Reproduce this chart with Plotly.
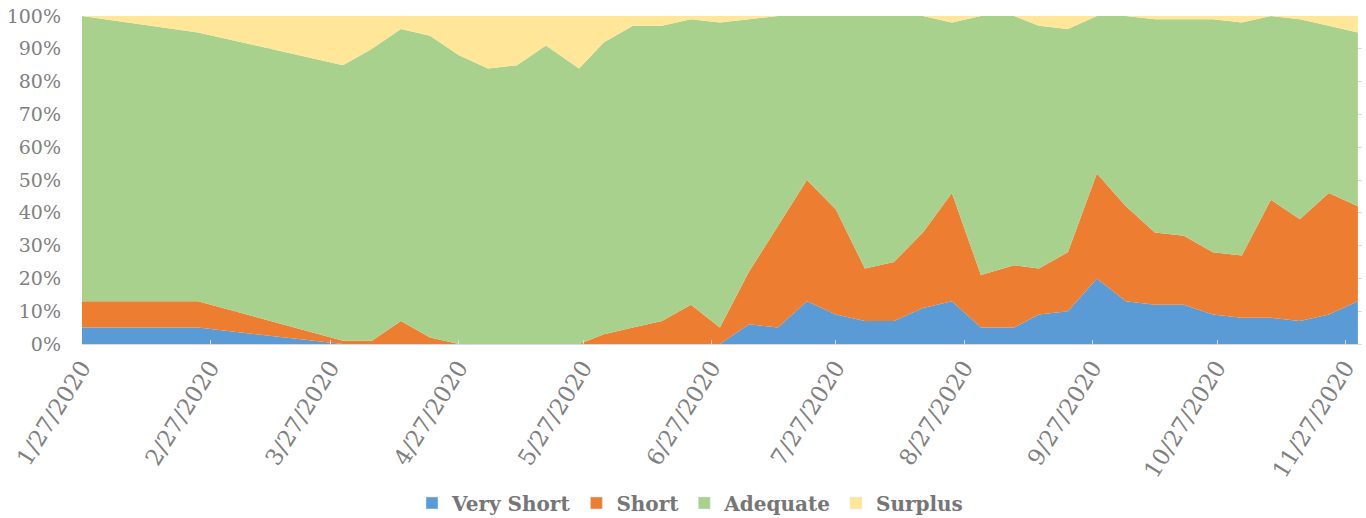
import plotly.graph_objects as go

# ---- data (percent of reports) ----
dates = ["2020-01-27", "2020-02-24", "2020-03-30", "2020-04-06", "2020-04-13", "2020-04-20",
         "2020-04-27", "2020-05-04", "2020-05-11", "2020-05-18", "2020-05-26", "2020-06-01",
         "2020-06-08", "2020-06-15", "2020-06-22", "2020-06-29", "2020-07-06", "2020-07-13",
         "2020-07-20", "2020-07-27", "2020-08-03", "2020-08-10", "2020-08-17", "2020-08-24",
         "2020-08-31", "2020-09-08", "2020-09-14", "2020-09-21", "2020-09-28", "2020-10-05",
         "2020-10-12", "2020-10-19", "2020-10-26", "2020-11-02", "2020-11-09", "2020-11-16",
         "2020-11-23", "2020-11-30"]

very_short = [5, 5, 0, 0, 0, 0, 0, 0, 0, 0, 0, 0, 0, 0, 0, 0, 6, 5, 13, 9, 7, 7, 11, 13,
              5, 5, 9, 10, 20, 13, 12, 12, 9, 8, 8, 7, 9, 13]
short = [8, 8, 1, 1, 7, 2, 0, 0, 0, 0, 0, 3, 5, 7, 12, 5, 16, 31, 37, 32, 16, 18, 23, 33,
         16, 19, 14, 18, 32, 29, 22, 21, 19, 19, 36, 31, 37, 29]
adequate = [87, 82, 84, 89, 89, 92, 88, 84, 85, 91, 84, 89, 92, 90, 87, 93, 77, 64, 50, 59,
            77, 75, 66, 52, 79, 76, 74, 68, 48, 58, 65, 66, 71, 71, 56, 61, 51, 53]
surplus = [0, 5, 15, 10, 4, 6, 12, 16, 15, 9, 16, 8, 3, 3, 1, 2, 1, 0, 0, 0, 0, 0, 0, 2,
           0, 0, 3, 4, 0, 0, 1, 1, 1, 2, 0, 1, 3, 5]

series_names = ["Very Short", "Short", "Adequate", "Surplus"]
series_values = [very_short, short, adequate, surplus]
series_colors = ["#5B9BD5", "#ED7D31", "#A9D18E", "#FFE699"]

tick_dates = ["2020-01-27", "2020-02-27", "2020-03-27", "2020-04-27", "2020-05-27", "2020-06-27",
              "2020-07-27", "2020-08-27", "2020-09-27", "2020-10-27", "2020-11-27"]
tick_labels = ["1/27/2020", "2/27/2020", "3/27/2020", "4/27/2020", "5/27/2020", "6/27/2020",
               "7/27/2020", "8/27/2020", "9/27/2020", "10/27/2020", "11/27/2020"]

y_ticks = [0, 10, 20, 30, 40, 50, 60, 70, 80, 90, 100]
y_labels = [f"{v}%" for v in y_ticks]

fig = go.Figure()
for name, vals, col in zip(series_names, series_values, series_colors):
    fig.add_trace(go.Scatter(
        x=dates, y=vals, name=name, mode="none", stackgroup="one", groupnorm="percent",
        fillcolor=col, showlegend=False, hoverinfo="x+y+name"))
# legend squares
for name, col in zip(series_names, series_colors):
    fig.add_trace(go.Bar(x=[None], y=[None], name=name, marker_color=col, showlegend=True))

fig.update_layout(
    width=1366, height=518,
    margin=dict(l=82, r=4, t=16, b=174),
    plot_bgcolor="white", paper_bgcolor="white",
    showlegend=True,
    legend=dict(orientation="h", x=0.475, xanchor="center", yref="container", y=0.029,
                yanchor="middle", traceorder="normal", itemwidth=30,
                font=dict(family="DejaVu Serif", size=20, color="#767676", weight="bold")),
    xaxis=dict(type="date", range=["2020-01-27", "2020-12-01"], automargin=False,
               tickvals=tick_dates, ticktext=tick_labels, tickangle=-58,
               tickfont=dict(family="DejaVu Serif", size=23, color="#808080"),
               ticks="inside", ticklen=4, tickcolor="#D9D9D9",
               showline=True, linecolor="#D9D9D9", linewidth=1, showgrid=False,
               zeroline=False, ticklabelstandoff=0, ticklabeloverflow="allow"),
    yaxis=dict(range=[0, 100], tickvals=y_ticks, ticktext=y_labels, automargin=False,
               tickfont=dict(family="DejaVu Serif", size=19, color="#808080"),
               showgrid=True, gridcolor="#D9D9D9", zeroline=False, showline=False,
               ticks="", ticklabelstandoff=20, ticklabeloverflow="allow"),
)

# remove the browser's default 8px body margin so the figure sits at the page origin
fig.write_html("out.html", config={"displayModeBar": False},
               post_script="document.body.style.margin='0';document.body.style.overflow='hidden';")
